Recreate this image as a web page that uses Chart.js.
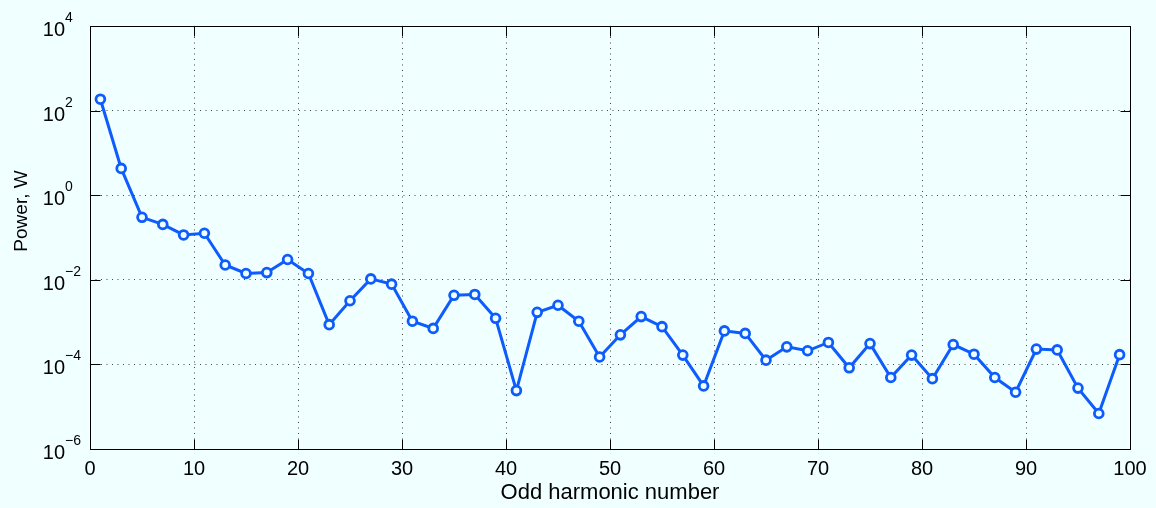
<!DOCTYPE html>
<html>
<head>
<meta charset="utf-8">
<title>Odd harmonic power spectrum</title>
<script src="https://cdn.jsdelivr.net/npm/chart.js@4/dist/chart.umd.min.js"></script>
<style>
  html, body { margin: 0; padding: 0; background: #f0ffff; }
  #wrap { width: 1156px; height: 508px; }
</style>
</head>
<body>
<div id="wrap"><canvas id="powerChart" width="1156" height="508"></canvas></div>
<script>
/* ---------- DATA ---------- */
const harmonics = [
  1, 3, 5, 7, 9, 11, 13, 15, 17, 19,
  21, 23, 25, 27, 29, 31, 33, 35, 37, 39,
  41, 43, 45, 47, 49, 51, 53, 55, 57, 59,
  61, 63, 65, 67, 69, 71, 73, 75, 77, 79,
  81, 83, 85, 87, 89, 91, 93, 95, 97, 99
];

// power per harmonic, W
const powerW = [
  186, 4.3, 0.30, 0.204, 0.115, 0.126, 0.0224, 0.0141, 0.0148, 0.0302,
  0.0141, 8.7e-4, 3.2e-3, 1.05e-2, 7.9e-3, 1.05e-3, 7.1e-4, 4.3e-3, 4.5e-3, 1.23e-3,
  2.4e-5, 1.7e-3, 2.5e-3, 1.05e-3, 1.5e-4, 5.0e-4, 1.35e-3, 7.8e-4, 1.66e-4, 3.1e-5,
  6.2e-4, 5.4e-4, 1.26e-4, 2.6e-4, 2.1e-4, 3.3e-4, 8.3e-5, 3.1e-4, 4.9e-5, 1.66e-4,
  4.6e-5, 2.95e-4, 1.74e-4, 4.9e-5, 2.2e-5, 2.3e-4, 2.2e-4, 2.75e-5, 6.9e-6, 1.7e-4
];

const yTickValues = [1e-6, 1e-4, 1e-2, 1, 1e2, 1e4];
const yTickExps = ["\u22126", "\u22124", "\u22122", "0", "2", "4"];

const xTitle = "Odd harmonic number";
const yTitle = "Power, W";

/* ---------- STYLE ---------- */
const FONT = '"Liberation Sans", Arial, Helvetica, sans-serif';
const BG = "#f0ffff";
const LINE = "#0d5cfb";

/* ---------- MATLAB-LIKE AXES (box, inward ticks, 10^n labels) ---------- */
const matlabAxes = {
  id: "matlabAxes",
  beforeDraw(chart) {
    const { ctx, width, height } = chart;
    ctx.save();
    ctx.fillStyle = BG;
    ctx.fillRect(0, 0, width, height);
    ctx.restore();
  },
  afterDraw(chart) {
    const { ctx, chartArea: a, scales } = chart;
    const xs = scales.x, ys = scales.y;
    const TICK = 10;

    ctx.save();
    ctx.strokeStyle = "#000";
    ctx.lineWidth = 1;

    // box
    ctx.strokeRect(a.left + 0.5, a.top + 0.5, a.right - a.left, a.bottom - a.top);

    // inward ticks
    ctx.beginPath();
    xs.ticks.forEach(t => {
      const px = Math.round(xs.getPixelForValue(t.value)) + 0.5;
      ctx.moveTo(px, a.bottom + 0.5); ctx.lineTo(px, a.bottom + 0.5 - TICK);
      ctx.moveTo(px, a.top + 0.5);    ctx.lineTo(px, a.top + 0.5 + TICK);
    });
    ys.ticks.forEach(t => {
      const py = Math.round(ys.getPixelForValue(t.value)) + 0.5;
      ctx.moveTo(a.left + 0.5, py);  ctx.lineTo(a.left + 0.5 + TICK, py);
      ctx.moveTo(a.right + 0.5, py); ctx.lineTo(a.right + 0.5 - TICK, py);
    });
    ctx.stroke();

    // y tick labels as 10 with superscript exponent
    ctx.fillStyle = "#000";
    ctx.textBaseline = "alphabetic";
    yTickValues.forEach((v, i) => {
      const py = ys.getPixelForValue(v);
      ctx.font = "20px " + FONT;
      ctx.textAlign = "right";
      ctx.fillText("10", 65, py + 10);
      ctx.font = "14px " + FONT;
      ctx.textAlign = "left";
      ctx.fillText(yTickExps[i], 65, py - 4);
    });

    // axis titles
    ctx.font = "22px " + FONT;
    ctx.textAlign = "center";
    ctx.fillText(xTitle, (a.left + a.right) / 2, 499);

    ctx.translate(27, 211);
    ctx.rotate(-Math.PI / 2);
    ctx.font = "19px " + FONT;
    ctx.fillText(yTitle, 0, 0);
    ctx.restore();
  }
};

/* ---------- CHART ---------- */
const points = harmonics.map((h, i) => ({ x: h, y: powerW[i] }));

new Chart(document.getElementById("powerChart"), {
  type: "line",
  data: {
    datasets: [{
      data: points,
      borderColor: LINE,
      borderWidth: 3,
      pointRadius: 4.4,
      pointBorderWidth: 2.8,
      pointBorderColor: LINE,
      pointBackgroundColor: BG,
      tension: 0
    }]
  },
  options: {
    responsive: false,
    animation: false,
    events: [],
    layout: { padding: { top: 26, right: 26, left: 0, bottom: 0 } },
    plugins: {
      legend: { display: false },
      tooltip: { enabled: false }
    },
    scales: {
      x: {
        type: "linear",
        min: 0,
        max: 100,
        ticks: {
          stepSize: 10,
          color: "#000",
          padding: 8,
          maxRotation: 0,
          font: { family: FONT, size: 20 }
        },
        grid: { color: "#444", lineWidth: 1, drawTicks: false },
        border: { display: false, dash: [1, 4.5] },
        afterFit(scale) { scale.height = 59; }
      },
      y: {
        type: "logarithmic",
        min: 1e-6,
        max: 1e4,
        ticks: { display: false },
        afterBuildTicks(scale) {
          scale.ticks = yTickValues.map(v => ({ value: v }));
        },
        grid: { color: "#444", lineWidth: 1, drawTicks: false },
        border: { display: false, dash: [1, 4.5] },
        afterFit(scale) { scale.width = 90; }
      }
    }
  },
  plugins: [matlabAxes]
});
</script>
</body>
</html>
